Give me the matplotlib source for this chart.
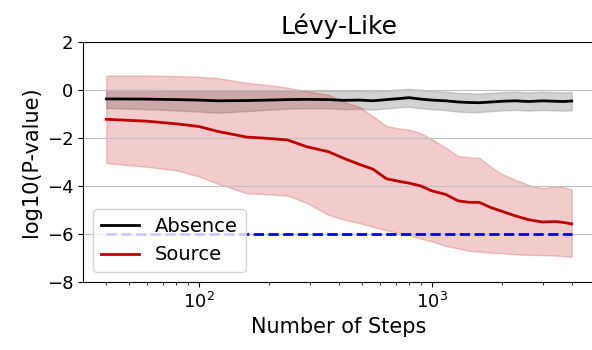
import matplotlib
matplotlib.use("Agg")
import matplotlib.pyplot as plt

# number of steps (x axis)
steps = [40, 60, 80, 100, 120, 160, 200, 240, 290, 360, 420, 490, 560, 640, 720,
         800, 900, 1000, 1150, 1300, 1450, 1600, 1800, 2000, 2300, 2600, 3000,
         3400, 3700, 4000]

# Absence: mean and band of log10(p)
absence_mean = [-0.37, -0.38, -0.40, -0.42, -0.45, -0.44, -0.42, -0.40, -0.39, -0.40,
                -0.43, -0.42, -0.45, -0.40, -0.36, -0.32, -0.38, -0.42, -0.45, -0.50,
                -0.52, -0.53, -0.50, -0.47, -0.45, -0.48, -0.45, -0.47, -0.48, -0.46]
absence_hi = [0.00, 0.00, -0.01, -0.01, -0.02, -0.02, -0.02, -0.01, -0.01, -0.02,
              -0.04, -0.03, -0.05, -0.02, 0.02, 0.05, 0.00, -0.04, -0.07, -0.12,
              -0.14, -0.15, -0.12, -0.09, -0.07, -0.10, -0.07, -0.09, -0.10, -0.08]
absence_lo = [-0.75, -0.80, -0.85, -0.90, -0.95, -0.88, -0.82, -0.78, -0.76, -0.76,
              -0.80, -0.78, -0.82, -0.77, -0.72, -0.70, -0.76, -0.80, -0.84, -0.90,
              -0.92, -0.92, -0.88, -0.85, -0.83, -0.86, -0.83, -0.85, -0.86, -0.84]

# Source: mean and band of log10(p)
source_mean = [-1.22, -1.30, -1.41, -1.52, -1.72, -1.96, -2.02, -2.08, -2.36, -2.57,
               -2.85, -3.10, -3.30, -3.70, -3.80, -3.88, -4.00, -4.20, -4.35, -4.62,
               -4.68, -4.68, -4.90, -5.05, -5.25, -5.40, -5.50, -5.48, -5.52, -5.58]
source_hi = [0.60, 0.60, 0.58, 0.55, 0.50, 0.30, 0.20, 0.10, -0.05, -0.20,
             -0.50, -0.70, -1.10, -1.50, -1.60, -1.65, -1.80, -2.05, -2.40, -2.75,
             -2.80, -2.82, -3.20, -3.50, -3.75, -3.95, -4.10, -4.00, -4.05, -4.15]
source_lo = [-3.05, -3.20, -3.35, -3.60, -3.90, -4.30, -4.35, -4.40, -4.70, -5.20,
             -5.40, -5.55, -5.70, -5.85, -5.95, -6.05, -6.20, -6.30, -6.50, -6.60,
             -6.70, -6.74, -6.78, -6.80, -6.85, -6.87, -6.88, -6.90, -6.92, -6.95]

threshold = -6

fig = plt.figure(figsize=(5.92, 3.5), dpi=100)
ax = fig.add_axes([83 / 592, 1 - 282 / 350, 512 / 592, 240 / 350])

ax.fill_between(steps, absence_lo, absence_hi, color="gray", alpha=0.35, lw=1)
ax.plot(steps, absence_mean, color="black", lw=2, label="Absence")
ax.fill_between(steps, source_lo, source_hi, color="#c00000", alpha=0.2, lw=1)
ax.plot(steps, source_mean, color="#c00000", lw=2, label="Source")
ax.plot([steps[0], steps[-1]], [threshold, threshold], color="blue", ls="--", lw=2)

ax.set_xscale("log")
ax.set_ylim(-8, 2)
ax.set_yticks([-8, -6, -4, -2, 0, 2])
ax.yaxis.grid(True, color="#c0c0c0", lw=0.8)
ax.tick_params(labelsize=13)

ax.set_title("Lévy-Like", fontsize=18)
ax.set_xlabel("Number of Steps", fontsize=15)
ax.set_ylabel("log10(P-value)", fontsize=15)
ax.legend(loc="lower left", fontsize=14)

fig.savefig("out.png", dpi=100)
